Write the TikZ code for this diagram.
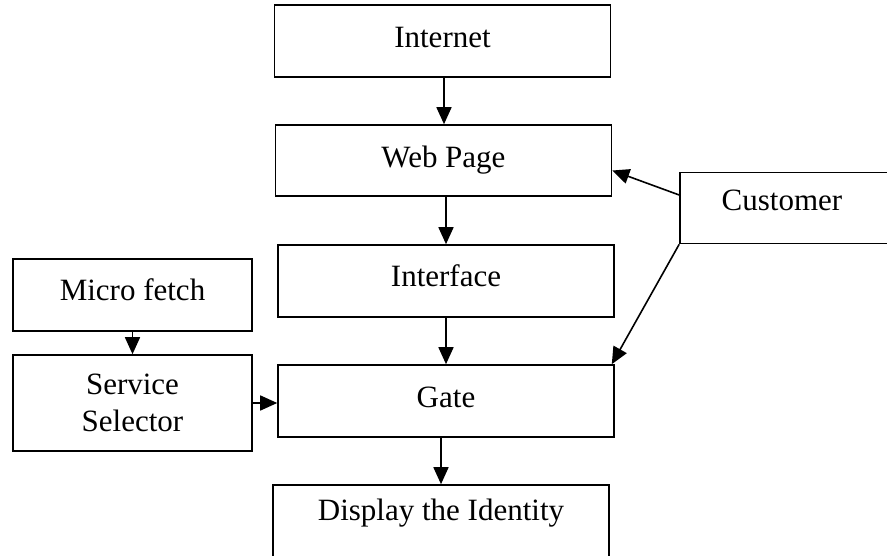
\documentclass[tikz,border=0pt]{standalone}
\usepackage{fontspec}
\setmainfont{Liberation Serif}
\usetikzlibrary{positioning}
\usetikzlibrary{arrows,arrows.meta}

\begin{document}
\begin{tikzpicture}[
        x=1pt, y=-1pt,
        line width=1.6pt,
        >={Triangle[length=17pt,width=15pt]},
        box/.style = {draw, rectangle, minimum width=336pt, minimum height=72pt, inner sep=0pt,
            font=\fontsize{31}{37}\selectfont, align=center},
        sidebox/.style = {box, minimum width=239pt},
    ]
    \useasboundingbox (0,0) rectangle (887,556);
    % main column
    \node[box, text depth=8pt] (internet) at (442.5,41) {Internet};
    \node[box, minimum height=71pt] (webpage) at (443.5,160.5) {Web Page};
    \node[box, text depth=10pt] (interface) at (446,281) {Interface};
    \node[box, text depth=8pt] (gate) at (446,401) {Gate};
    \node[box, text depth=22pt] (display) at (441,521) {Display the Identity};
    % right and left (customer runs off the page)
    \node[box, minimum width=230pt, minimum height=71pt, text depth=16pt] (customer) at (795,208) {\hspace*{-26pt}Customer};
    \node[sidebox, text depth=10pt] (micro) at (132.5,295) {Micro fetch};
    \node[sidebox, minimum height=96pt] (selector) at (132.5,403) {Service\\Selector};
    % connectors
    \draw[->] (internet.south -| 444,0) -- (webpage.north -| 444,0);
    \draw[->] (webpage.south -| interface.north) -- (interface.north);
    \draw[->] (interface.south) -- (gate.north);
    \draw[->] (gate.south -| display.north) -- (display.north);
    \draw[->] ([yshift=13pt]customer.west) -- ([yshift=-10pt]webpage.east);
    \draw[->] (customer.south west) -- ([xshift=-3pt]gate.north east);
    \draw[->] (micro.south) -- (selector.north);
    \draw[->] (selector.east) -- (selector.east -| gate.west);
\end{tikzpicture}
\end{document}
